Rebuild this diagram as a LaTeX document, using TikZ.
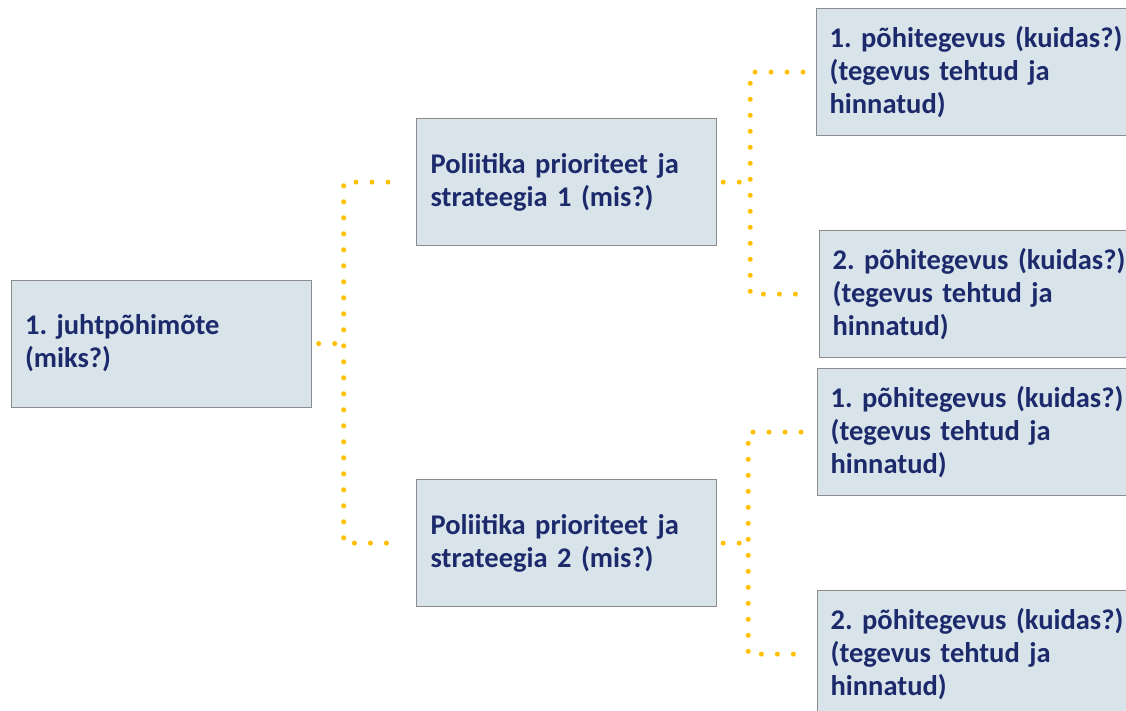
\documentclass[tikz,border=0pt]{standalone}
\usepackage{fontspec}
\setmainfont{Carlito}
\usetikzlibrary{calc}
\definecolor{boxfill}{HTML}{D8E4EA}
\definecolor{boxline}{HTML}{8C8C8C}
\definecolor{navy}{HTML}{1C2A6C}
\definecolor{gold}{HTML}{FFC000}
\frenchspacing
\begin{document}
\begin{tikzpicture}[x=1pt,y=-1pt,
  box/.style={draw=boxline, fill=boxfill, line width=1.2pt, anchor=north west,
    minimum height=127pt, align=left, inner xsep=14pt, inner ysep=0pt,
    font=\fontsize{28.5}{33}\selectfont\bfseries, text=navy},
  midbox/.style={box, text width=272pt},
  leafbox/.style={box, text width=310pt, inner xsep=13pt},
  dotline/.style={draw=gold, line width=5pt, line cap=round, dash pattern=on 0pt off 16pt}]
\useasboundingbox (0,0) rectangle (1126,711);
\clip (0,0) rectangle (1126,711);
\fill[white] (0,0) rectangle (1126,711);

\node[midbox] (root) at (10.5,279.5) {1. juhtpõhimõte\\(miks?)};
\node[midbox] (p1) at (416,118) {Poliitika prioriteet ja\\strateegia 1 (mis?)};
\node[midbox] (p2) at (416,479) {Poliitika prioriteet ja\\strateegia 2 (mis?)};
\node[leafbox] (l1) at (816,8) {1. põhitegevus (kuidas?)\\(tegevus tehtud ja\\hinnatud)};
\node[leafbox] (l2) at (819,230) {2. põhitegevus (kuidas?)\\(tegevus tehtud ja\\hinnatud)};
\node[leafbox] (l3) at (817,368) {1. põhitegevus (kuidas?)\\(tegevus tehtud ja\\hinnatud)};
\node[leafbox] (l4) at (817,590) {2. põhitegevus (kuidas?)\\(tegevus tehtud ja\\hinnatud)};

% root -> priorities
\coordinate (t0) at ($(root.east)+(32,0)$);
\draw[dotline] ([xshift=7pt]root.east) -- (t0);
\draw[dotline] ([xshift=-28pt]p1.west) -- (p1.west -| t0) -- (p2.west -| t0) -- ([xshift=-16pt]p2.west);

% p1 -> leaves
\coordinate (t1) at ($(p1.east)+(33,0)$);
\draw[dotline] ([xshift=6pt]p1.east) -- (t1);
\draw[dotline] ([xshift=-13pt]l1.west) -- (l1.west -| t1) -- (l2.west -| t1) -- ([xshift=-14pt]l2.west);

% p2 -> leaves
\coordinate (t2) at ($(p2.east)+(31,0)$);
\draw[dotline] ([xshift=6pt]p2.east) -- (t2);
\draw[dotline] ([xshift=-16pt]l3.west) -- (l3.west -| t2) -- (l4.west -| t2) -- ([xshift=-14pt]l4.west);
\end{tikzpicture}
\end{document}
